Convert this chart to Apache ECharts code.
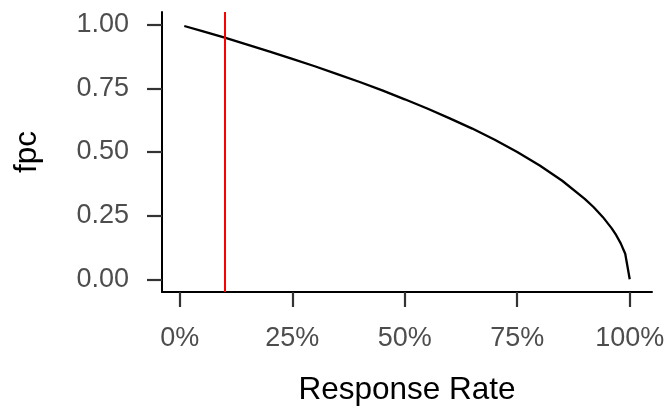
<!DOCTYPE html>
<html>
<head>
<meta charset="utf-8">
<script src="https://cdn.jsdelivr.net/npm/echarts@6/dist/echarts.min.js"></script>
<style>
  html, body { margin: 0; padding: 0; background: #fff; }
  #chart { width: 668px; height: 406px; }
</style>
</head>
<body>
<div id="chart"></div>
<script>
// response rate (x) and fpc (y)
var responseRate = [0.01, 0.05, 0.10, 0.15, 0.20, 0.25, 0.30, 0.35, 0.40, 0.45, 0.50,
  0.55, 0.60, 0.65, 0.70, 0.75, 0.80, 0.85, 0.90, 0.92, 0.94, 0.96, 0.97, 0.98, 0.99, 1.00];
var fpcValues = [0.995, 0.975, 0.949, 0.922, 0.894, 0.866, 0.837, 0.806, 0.775, 0.742, 0.707,
  0.671, 0.632, 0.592, 0.548, 0.500, 0.447, 0.387, 0.316, 0.283, 0.245, 0.200, 0.173, 0.141, 0.100, 0.000];
var xTicks = [0, 0.25, 0.5, 0.75, 1];
var yTicks = [0, 0.25, 0.5, 0.75, 1];
var cutoffRate = [0.10];

var chart = echarts.init(document.getElementById('chart'));

var lineData = [];
responseRate.forEach(function (r, i) {
  lineData.push([r, fpcValues[i]]);
});

var font = 'Liberation Sans, Arial, sans-serif';

var option = {
  animation: false,
  grid: { left: 162, right: 16, top: 12, bottom: 114, containLabel: false, outerBoundsMode: 'none' },
  xAxis: {
    type: 'value',
    min: -0.0395,
    max: 1.0495,
    name: 'Response Rate',
    nameLocation: 'middle',
    nameGap: 82,
    nameTextStyle: { color: '#000', fontSize: 31.5, fontFamily: font },
    splitLine: { show: false },
    axisLine: { show: true, onZero: false, lineStyle: { color: '#000', width: 2 } },
    axisTick: { show: true, length: 15, customValues: xTicks, lineStyle: { color: '#333', width: 2.2 } },
    axisLabel: {
      customValues: xTicks,
      margin: 33,
      color: '#4d4d4d',
      fontSize: 27,
      fontFamily: font,
      formatter: function (v) { return Math.round(v * 100) + '%'; }
    }
  },
  yAxis: {
    type: 'value',
    min: -0.05,
    max: 1.05,
    name: 'fpc',
    nameLocation: 'middle',
    nameGap: 119,
    nameRotate: 90,
    nameTextStyle: { color: '#000', fontSize: 31.5, fontFamily: font },
    splitLine: { show: false },
    axisLine: { show: true, onZero: false, lineStyle: { color: '#000', width: 2 } },
    axisTick: { show: true, length: 15, customValues: yTicks, lineStyle: { color: '#333', width: 2.2 } },
    axisLabel: {
      customValues: yTicks,
      margin: 33,
      color: '#4d4d4d',
      fontSize: 27,
      fontFamily: font,
      formatter: function (v) { return v.toFixed(2); }
    }
  },
  series: [
    {
      name: 'fpc',
      type: 'line',
      data: lineData,
      showSymbol: false,
      lineStyle: { color: '#000', width: 2.3 },
      markLine: {
        silent: true,
        symbol: ['none', 'none'],
        label: { show: false },
        lineStyle: { color: '#ff0000', width: 2, type: 'solid' },
        data: cutoffRate.map(function (v) { return { xAxis: v }; })
      }
    }
  ]
};

chart.setOption(option);
</script>
</body>
</html>
